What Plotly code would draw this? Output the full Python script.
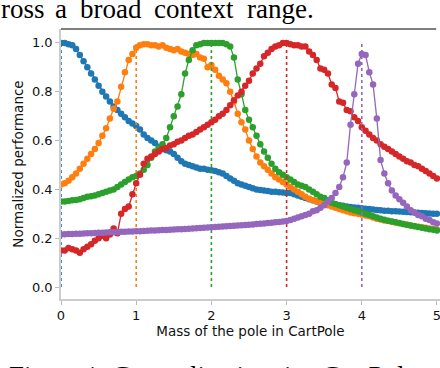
import plotly.graph_objects as go

# mass of the pole (x grid, step 0.05)
MASS = [round(i * 0.05, 2) for i in range(101)]

# normalized performance per training context
PERF_M0 = [
    1.00, 1.00, 0.995, 0.99, 0.975, 0.95, 0.925, 0.90, 0.875, 0.85,
    0.825, 0.80, 0.78, 0.76, 0.74, 0.725, 0.71, 0.695, 0.68, 0.67,
    0.66, 0.645, 0.625, 0.61, 0.60, 0.59, 0.575, 0.565, 0.56, 0.555,
    0.545, 0.53, 0.515, 0.505, 0.50, 0.495, 0.49, 0.485, 0.485, 0.48,
    0.478, 0.475, 0.47, 0.465, 0.455, 0.445, 0.435, 0.425, 0.42, 0.415,
    0.41, 0.405, 0.40, 0.398, 0.395, 0.393, 0.39, 0.39, 0.388, 0.387,
    0.385, 0.385, 0.38, 0.375, 0.37, 0.365, 0.36, 0.355, 0.35, 0.348,
    0.345, 0.343, 0.34, 0.338, 0.335, 0.333, 0.33, 0.328, 0.326, 0.325,
    0.323, 0.321, 0.32, 0.318, 0.316, 0.315, 0.313, 0.312, 0.31, 0.31,
    0.309, 0.308, 0.307, 0.306, 0.305, 0.304, 0.303, 0.302, 0.301, 0.30,
    0.30,
]
PERF_M1 = [
    0.42, 0.425, 0.435, 0.45, 0.465, 0.485, 0.505, 0.525, 0.545, 0.565,
    0.59, 0.62, 0.65, 0.69, 0.73, 0.76, 0.82, 0.88, 0.93, 0.955,
    0.98, 0.99, 0.995, 0.995, 0.99, 0.99, 0.985, 0.99, 0.98, 0.975,
    0.97, 0.975, 0.965, 0.96, 0.955, 0.95, 0.955, 0.94, 0.935, 0.90,
    0.91, 0.89, 0.865, 0.85, 0.835, 0.80, 0.76, 0.71, 0.675, 0.645,
    0.60, 0.565, 0.535, 0.51, 0.495, 0.48, 0.465, 0.45, 0.44, 0.43,
    0.42, 0.41, 0.40, 0.39, 0.38, 0.37, 0.362, 0.355, 0.35, 0.345,
    0.34, 0.335, 0.33, 0.325, 0.32, 0.315, 0.31, 0.305, 0.302, 0.30,
    0.297, 0.293, 0.29, 0.285, 0.28, 0.277, 0.273, 0.27, 0.267, 0.264,
    0.261, 0.258, 0.255, 0.252, 0.25, 0.247, 0.245, 0.243, 0.24, 0.238,
    0.236,
]
PERF_M2 = [
    0.35, 0.35, 0.352, 0.355, 0.357, 0.36, 0.365, 0.37, 0.372, 0.375,
    0.38, 0.385, 0.39, 0.395, 0.40, 0.41, 0.42, 0.43, 0.44, 0.45,
    0.455, 0.465, 0.48, 0.50, 0.53, 0.555, 0.57, 0.585, 0.61, 0.655,
    0.70, 0.74, 0.79, 0.875, 0.93, 0.97, 0.99, 0.995, 1.00, 1.00,
    1.00, 1.00, 1.00, 1.00, 0.995, 0.985, 0.94, 0.85, 0.79, 0.725,
    0.685, 0.655, 0.62, 0.585, 0.555, 0.53, 0.505, 0.485, 0.47, 0.46,
    0.45, 0.44, 0.43, 0.42, 0.415, 0.41, 0.40, 0.39, 0.38, 0.37,
    0.365, 0.355, 0.345, 0.34, 0.335, 0.33, 0.325, 0.32, 0.315, 0.31,
    0.305, 0.30, 0.295, 0.29, 0.285, 0.28, 0.276, 0.272, 0.268, 0.265,
    0.262, 0.258, 0.255, 0.252, 0.249, 0.246, 0.243, 0.24, 0.237, 0.235,
    0.232,
]
PERF_M3 = [
    0.15, 0.15, 0.16, 0.155, 0.15, 0.14, 0.155, 0.165, 0.175, 0.19,
    0.20, 0.21, 0.20, 0.215, 0.24, 0.22, 0.30, 0.32, 0.33, 0.38,
    0.425, 0.46, 0.505, 0.525, 0.535, 0.545, 0.555, 0.565, 0.57, 0.58,
    0.585, 0.595, 0.60, 0.61, 0.62, 0.625, 0.635, 0.645, 0.655, 0.665,
    0.675, 0.685, 0.70, 0.71, 0.725, 0.745, 0.765, 0.785, 0.80, 0.825,
    0.845, 0.875, 0.895, 0.915, 0.945, 0.96, 0.975, 0.985, 0.99, 1.00,
    1.00, 0.995, 0.99, 0.99, 0.985, 0.985, 0.965, 0.95, 0.93, 0.895,
    0.89, 0.875, 0.83, 0.815, 0.76, 0.755, 0.725, 0.72, 0.695, 0.68,
    0.655, 0.64, 0.625, 0.61, 0.60, 0.585, 0.575, 0.565, 0.555, 0.545,
    0.535, 0.525, 0.515, 0.51, 0.50, 0.495, 0.485, 0.475, 0.465, 0.455,
    0.445,
]
PERF_M4 = [
    0.215, 0.216, 0.217, 0.217, 0.218, 0.218, 0.219, 0.22, 0.22, 0.221,
    0.222, 0.222, 0.223, 0.224, 0.224, 0.225, 0.226, 0.226, 0.227, 0.228,
    0.229, 0.229, 0.23, 0.231, 0.232, 0.232, 0.233, 0.234, 0.234, 0.235,
    0.236, 0.237, 0.237, 0.238, 0.239, 0.24, 0.241, 0.242, 0.243, 0.244,
    0.245, 0.246, 0.247, 0.248, 0.249, 0.25, 0.251, 0.252, 0.253, 0.254,
    0.255, 0.256, 0.258, 0.259, 0.26, 0.262, 0.263, 0.265, 0.266, 0.268,
    0.27, 0.275, 0.28, 0.285, 0.29, 0.295, 0.30, 0.31, 0.315, 0.325,
    0.335, 0.35, 0.365, 0.385, 0.41, 0.45, 0.51, 0.665, 0.79, 0.915,
    0.955, 0.95, 0.88, 0.83, 0.69, 0.52, 0.465, 0.425, 0.395, 0.375,
    0.36, 0.345, 0.33, 0.315, 0.305, 0.295, 0.29, 0.28, 0.275, 0.265,
    0.26,
]

# training contexts (dotted markers)
TRAIN_MASS = [0, 1, 2, 3, 4]
SERIES = [PERF_M0, PERF_M1, PERF_M2, PERF_M3, PERF_M4]
COLORS = ['#1f77b4', '#ff7f0e', '#2ca02c', '#d62728', '#9467bd']

# surrounding paper text (justified line above, caption below)
TOP_WORDS = ['ross', 'a', 'broad', 'context', 'range.']
TOP_WORD_X = [-1, 53, 78, 152, 245]
CAPTION_WORDS = ['Figure', '1:', 'Generalization', 'in', 'CartPole:']
CAPTION_WORD_X = [7, 83, 110, 282, 320]

W, H = 440, 368
L, R, T, B = 61, 0, 29, 69
PW, PH = W - L - R, H - T - B

fig = go.Figure()

for m, perf, color in zip(TRAIN_MASS, SERIES, COLORS):
    fig.add_trace(go.Scatter(
        x=MASS, y=perf, mode='lines+markers',
        line=dict(color=color, width=1.3),
        marker=dict(color=color, size=6.5, line=dict(width=0)),
        showlegend=False, hoverinfo='skip',
    ))
    fig.add_trace(go.Scatter(
        x=[m, m], y=[0, 1], mode='lines',
        line=dict(color=color, width=1.6, dash='dot'),
        showlegend=False, hoverinfo='skip',
    ))

axis_common = dict(
    showline=True, linecolor='#cccccc', linewidth=1.5,
    showgrid=False, zeroline=False, automargin=False,
    ticks='outside', ticklen=4, tickwidth=1, tickcolor='#bbbbbb',
    ticklabeloverflow='allow',
    tickfont=dict(family='DejaVu Sans', size=13, color='#111111'),
)
title_font = dict(family='DejaVu Sans', size=13.5, color='#111111')
serif = dict(family='Liberation Serif', size=27, color='black')

annotations = []
for word, px in zip(TOP_WORDS, TOP_WORD_X):
    annotations.append(dict(
        text=word, xref='paper', yref='paper',
        x=(px - L) / PW, y=1 + (T - 26) / PH,
        xanchor='left', yanchor='bottom', showarrow=False, font=serif,
    ))
for word, px in zip(CAPTION_WORDS, CAPTION_WORD_X):
    annotations.append(dict(
        text=word, xref='paper', yref='paper',
        x=(px - L) / PW, y=-(359 - (H - B)) / PH,
        xanchor='left', yanchor='top', showarrow=False, font=serif,
    ))

fig.update_layout(
    width=W, height=H,
    margin=dict(l=L, r=R, t=T, b=B),
    plot_bgcolor='white', paper_bgcolor='white',
    xaxis=dict(
        range=[0, 5.04], tickvals=[0, 1, 2, 3, 4, 5],
        title=dict(text='Mass of the pole in CartPole', standoff=3, font=title_font),
        **axis_common,
    ),
    yaxis=dict(
        range=[-0.049, 1.057], tickvals=[0, 0.2, 0.4, 0.6, 0.8, 1.0],
        tickformat='.1f',
        title=dict(text='Normalized performance', standoff=5, font=title_font),
        **axis_common,
    ),
    shapes=[dict(type='line', xref='paper', yref='paper',
                 x0=0, x1=0.99, y0=1, y1=1,
                 line=dict(color='black', width=1.2))],
    annotations=annotations,
)

# the page is photographed at exactly the figure size, so drop the body margin
fig.write_html("out.html", config={'displayModeBar': False},
               post_script="document.body.style.margin='0';")
